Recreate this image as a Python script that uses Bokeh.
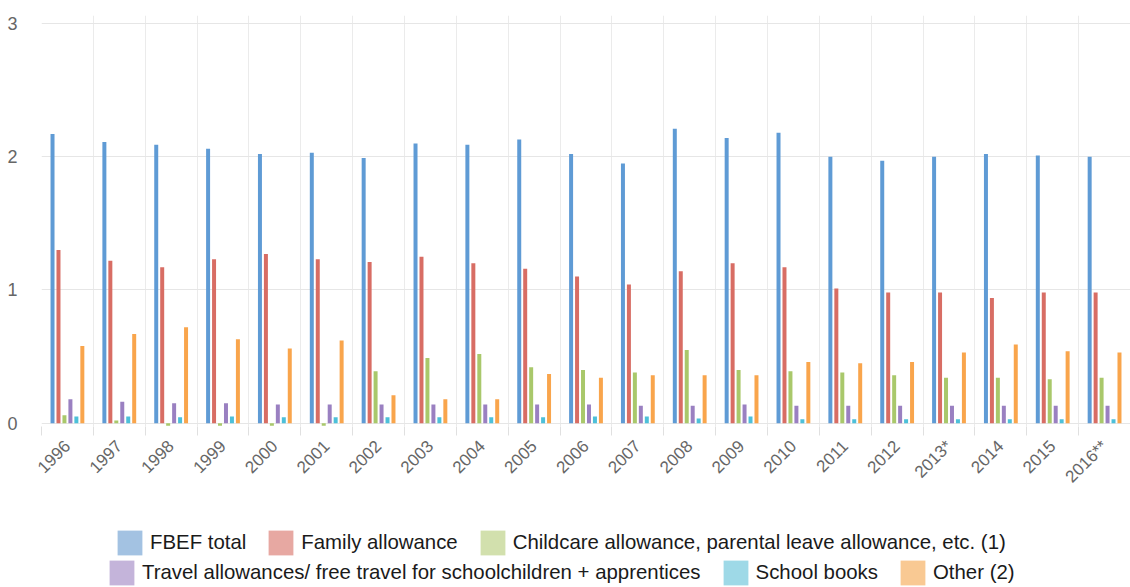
import numpy as np
from bokeh.plotting import figure
from bokeh.layouts import column
from bokeh.models import ColumnDataSource, FixedTicker, Legend, LegendItem, Range1d
from bokeh.transform import dodge
from bokeh.embed import file_html
from bokeh.resources import INLINE

years = ["1996", "1997", "1998", "1999", "2000", "2001", "2002", "2003", "2004", "2005",
         "2006", "2007", "2008", "2009", "2010", "2011", "2012", "2013*", "2014", "2015", "2016**"]
fbef_total = [2.17, 2.11, 2.09, 2.06, 2.02, 2.03, 1.99, 2.10, 2.09, 2.13,
              2.02, 1.95, 2.21, 2.14, 2.18, 2.00, 1.97, 2.00, 2.02, 2.01, 2.00]
family_allowance = [1.30, 1.22, 1.17, 1.23, 1.27, 1.23, 1.21, 1.25, 1.20, 1.16,
                    1.10, 1.04, 1.14, 1.20, 1.17, 1.01, 0.98, 0.98, 0.94, 0.98, 0.98]
childcare = [0.06, 0.02, -0.02, -0.02, -0.02, -0.02, 0.39, 0.49, 0.52, 0.42,
             0.40, 0.38, 0.55, 0.40, 0.39, 0.38, 0.36, 0.34, 0.34, 0.33, 0.34]
travel = [0.18, 0.16, 0.15, 0.15, 0.14, 0.14, 0.14, 0.14, 0.14, 0.14,
          0.14, 0.13, 0.13, 0.14, 0.13, 0.13, 0.13, 0.13, 0.13, 0.13, 0.13]
school_books = [0.05, 0.05, 0.045, 0.05, 0.045, 0.045, 0.045, 0.045, 0.045, 0.045,
                0.05, 0.05, 0.035, 0.05, 0.03, 0.03, 0.03, 0.03, 0.03, 0.03, 0.03]
other = [0.58, 0.67, 0.72, 0.63, 0.56, 0.62, 0.21, 0.18, 0.18, 0.37,
         0.34, 0.36, 0.36, 0.36, 0.46, 0.45, 0.46, 0.53, 0.59, 0.54, 0.53]

series_names = ["FBEF total", "Family allowance",
                "Childcare allowance, parental leave allowance, etc. (1)",
                "Travel allowances/ free travel for schoolchildren + apprentices",
                "School books", "Other (2)"]
series_keys = ["fbef_total", "family_allowance", "childcare", "travel", "school_books", "other"]
bar_colors = ["#5f9bd5", "#d86d64", "#a9c86b", "#9a80c1", "#4dc0d9", "#f9a54c"]
legend_colors = ["#a3c2e2", "#e7a8a2", "#d2e0ad", "#c4b4da", "#9ed9e7", "#f9c993"]

n = len(years)
source = ColumnDataSource(dict(
    x=list(range(n)),
    fbef_total=fbef_total, family_allowance=family_allowance, childcare=childcare,
    travel=travel, school_books=school_books, other=other))

p = figure(width=1130, height=510, output_backend="svg", toolbar_location=None,
           x_range=Range1d(-0.5, n - 0.5), y_range=Range1d(-0.025, 3.06),
           min_border_left=41, min_border_right=0, min_border_top=15, min_border_bottom=84)
p.outline_line_color = None

step = 0.115
bw = 0.077
for i, key in enumerate(series_keys):
    off = (i - 2.5) * step
    p.vbar(x=dodge("x", off, range=p.x_range), top=key, bottom=0, width=bw,
           source=source, fill_color=bar_colors[i], line_color=None)

# axes
p.yaxis.ticker = FixedTicker(ticks=[0, 1, 2, 3])
p.yaxis.axis_line_color = None
p.yaxis.major_tick_line_color = None
p.yaxis.minor_tick_line_color = None
p.yaxis.major_label_text_font = "Liberation Sans"
p.yaxis.major_label_text_font_size = "18px"
p.yaxis.major_label_text_color = "#666666"
p.yaxis.major_label_standoff = 18

p.xaxis.ticker = FixedTicker(ticks=list(range(n)), minor_ticks=[i - 0.5 for i in range(n + 1)])
p.xaxis.major_label_overrides = {i: years[i] for i in range(n)}
p.xaxis.axis_line_color = None
p.xaxis.major_tick_line_color = None
p.xaxis.minor_tick_line_color = "#e0e0e0"
p.xaxis.minor_tick_in = 0
p.xaxis.minor_tick_out = 9
p.xaxis.major_label_orientation = np.pi / 4
p.xaxis.major_label_text_font = "Liberation Sans"
p.xaxis.major_label_text_font_size = "17px"
p.xaxis.major_label_text_color = "#666666"
p.xaxis.major_label_standoff = 8

p.xgrid.ticker = FixedTicker(ticks=[i - 0.5 for i in range(n + 1)])
p.xgrid.grid_line_color = "#ebebeb"
p.ygrid.grid_line_color = "#e6e6e6"

# legend figure
p2 = figure(width=1130, height=77, output_backend="svg", toolbar_location=None,
            x_range=Range1d(0, 1), y_range=Range1d(0, 1),
            x_axis_location=None, y_axis_location=None,
            min_border_left=0, min_border_right=0, min_border_top=0, min_border_bottom=0)
p2.grid.visible = False
p2.outline_line_color = None

items = []
for i, name in enumerate(series_names):
    r = p2.vbar(x=[-100], top=[0], width=0.1, fill_color=legend_colors[i], line_color=None)
    items.append(LegendItem(label=name, renderers=[r]))

leg1 = Legend(items=items[:3], orientation="horizontal", location=(73, 29))
leg2 = Legend(items=items[3:], orientation="horizontal", location=(65, -1))
for lg in (leg1, leg2):
    lg.glyph_width = 31
    lg.glyph_height = 31
    lg.label_height = 31
    lg.label_standoff = 5
    lg.spacing = 19
    lg.padding = 0
    lg.margin = 0
    lg.border_line_color = None
    lg.background_fill_alpha = 0
    lg.label_text_font = "Liberation Sans"
    lg.label_text_font_size = "20.4px"
    lg.label_text_color = "#1a1a1a"
p2.add_layout(leg1, "center")
p2.add_layout(leg2, "center")

open("out.html", "w").write(file_html(column(p, p2, spacing=0), INLINE))
